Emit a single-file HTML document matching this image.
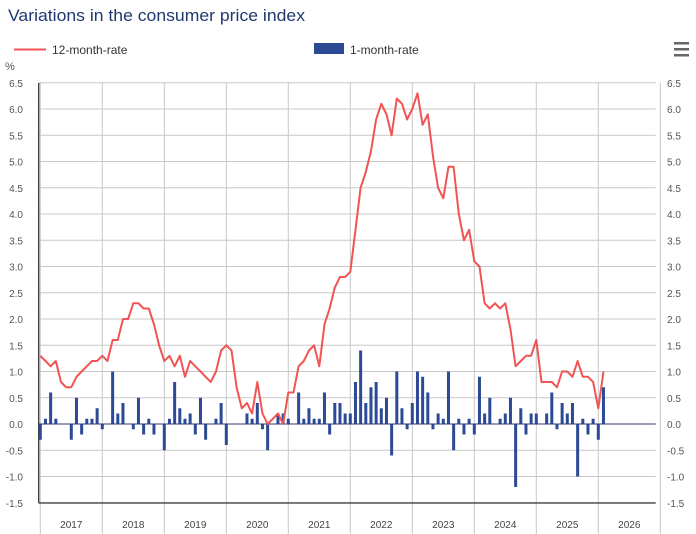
<!DOCTYPE html>
<html><head><meta charset="utf-8"><style>
body{margin:0;background:#fff;font-family:"Liberation Sans",sans-serif}
svg{display:block}
</style></head><body>
<svg id="c" width="696" height="534" xmlns="http://www.w3.org/2000/svg" font-family="Liberation Sans, sans-serif">
<text x="8" y="21" font-size="17" fill="#1f3a6e" textLength="297" lengthAdjust="spacingAndGlyphs">Variations in the consumer price index</text>
<line x1="14" y1="49.5" x2="46" y2="49.5" stroke="#f05454" stroke-width="2"/>
<text x="52" y="54" font-size="12" fill="#333">12-month-rate</text>
<rect x="314" y="43" width="30" height="11" fill="#2c4a96"/>
<text x="350" y="54" font-size="12" fill="#333">1-month-rate</text>
<rect x="674" y="42" width="15" height="2.5" fill="#666"/>
<rect x="674" y="48" width="15" height="2.5" fill="#666"/>
<rect x="674" y="54" width="15" height="2.5" fill="#666"/>
<text x="5" y="70" font-size="11" fill="#555">%</text>
<g id="g"></g>
</svg>
<script>
const g=document.getElementById('g');const NS='http://www.w3.org/2000/svg';
function el(t,a,txt){const e=document.createElementNS(NS,t);for(const k in a)e.setAttribute(k,a[k]);if(txt!==undefined)e.textContent=txt;g.appendChild(e);return e;}
const L=38.7,R=655.7,y0=424,u=52.5;const Y=v=>y0-v*u;
const X=i=>40.3+i*62/12;
for(let v=-1.5;v<=6.51;v+=0.5){const y=Y(v);el('line',{x1:L,x2:R,y1:y,y2:y,stroke:'#c8c8c8','stroke-width':1});
const s=v.toFixed(1);el('text',{x:23,y:y+4,'font-size':10,fill:'#555','text-anchor':'end'},s);el('text',{x:667,y:y+4,'font-size':10,fill:'#555'},s);}
for(let k=0;k<=10;k++){const x=40.3+k*62;el('line',{x1:x,x2:x,y1:83,y2:534,stroke:'#c8c8c8','stroke-width':1});
if(k<10)el('text',{x:x+31,y:528,'font-size':10,fill:'#444','text-anchor':'middle'},String(2017+k));}
el('line',{x1:L,x2:L,y1:83,y2:503,stroke:'#333','stroke-width':1.3});
el('line',{x1:L,x2:R,y1:503,y2:503,stroke:'#333','stroke-width':1.3});
const m=[-0.3,0.1,0.6,0.1,0,0,-0.3,0.5,-0.2,0.1,0.1,0.3,
-0.1,0,1.0,0.2,0.4,0,-0.1,0.5,-0.2,0.1,-0.2,0,
-0.5,0.1,0.8,0.3,0.1,0.2,-0.2,0.5,-0.3,0,0.1,0.4,
-0.4,0,0,0,0.2,0.1,0.4,-0.1,-0.5,0,0.2,0.2,
0.1,0,0.6,0.1,0.3,0.1,0.1,0.6,-0.2,0.4,0.4,0.2,
0.2,0.8,1.4,0.4,0.7,0.8,0.3,0.5,-0.6,1.0,0.3,-0.1,
0.4,1.0,0.9,0.6,-0.1,0.2,0.1,1.0,-0.5,0.1,-0.2,0.1,
-0.2,0.9,0.2,0.5,0,0.1,0.2,0.5,-1.2,0.3,-0.2,0.2,
0.2,0,0.2,0.6,-0.1,0.4,0.2,0.4,-1.0,0.1,-0.2,0.1,
-0.3,0.7];
m.forEach((v,i)=>{if(v===0)return;const x=X(i);const y=Math.min(Y(v),y0);el('rect',{x:x-1.5,y:y,width:3,height:Math.abs(v)*u,fill:'#2c4a96'});});
el('line',{x1:L,x2:R,y1:y0,y2:y0,stroke:'#2c3a7a','stroke-width':1});
const a=[1.3,1.2,1.1,1.2,0.8,0.7,0.7,0.9,1.0,1.1,1.2,1.2,
1.3,1.2,1.6,1.6,2.0,2.0,2.3,2.3,2.2,2.2,1.9,1.5,
1.2,1.3,1.1,1.3,0.9,1.2,1.1,1.0,0.9,0.8,1.0,1.4,
1.5,1.4,0.7,0.3,0.4,0.2,0.8,0.2,0.0,0.1,0.2,0.0,
0.6,0.6,1.1,1.2,1.4,1.5,1.1,1.9,2.2,2.6,2.8,2.8,
2.9,3.7,4.5,4.8,5.2,5.8,6.1,5.9,5.5,6.2,6.1,5.8,
6.0,6.3,5.7,5.9,5.1,4.5,4.3,4.9,4.9,4.0,3.5,3.7,
3.1,3.0,2.3,2.2,2.3,2.2,2.3,1.8,1.1,1.2,1.3,1.3,
1.6,0.8,0.8,0.8,0.7,1.0,1.0,0.9,1.2,0.9,0.9,0.8,
0.3,1.0];
el('polyline',{points:a.map((v,i)=>X(i).toFixed(1)+','+Y(v).toFixed(1)).join(' '),fill:'none',stroke:'#f05454','stroke-width':2,'stroke-linejoin':'round'});
</script>
</body></html>
